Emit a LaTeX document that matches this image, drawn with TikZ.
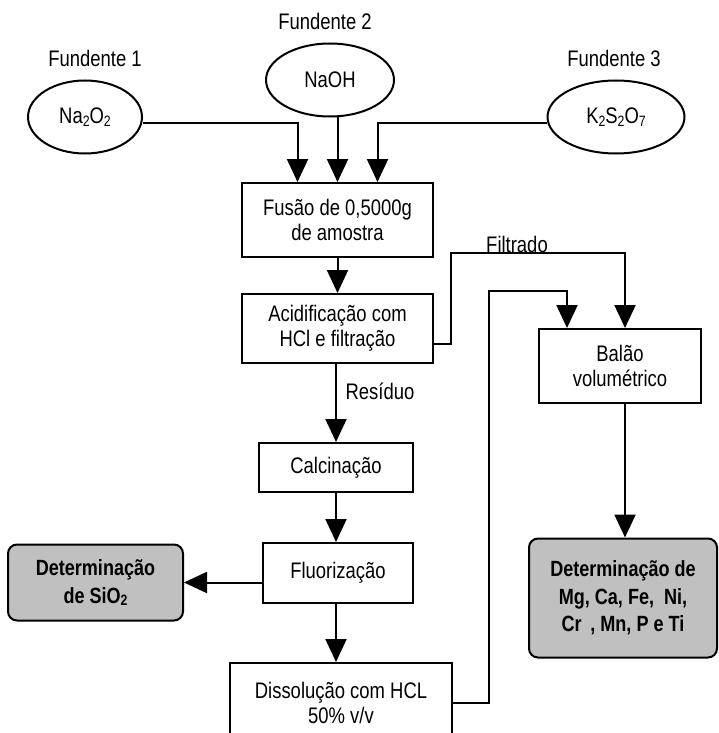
\documentclass[tikz,border=0pt]{standalone}
\usepackage{fontspec}
\setmainfont{Liberation Sans}[FakeStretch=0.82]
\usetikzlibrary{arrows.meta, positioning, shapes.geometric}
\definecolor{boxGray}{HTML}{C0C0C0}
\newcommand{\chemsub}[1]{\raisebox{-0.2ex}{\fontsize{15}{15}\selectfont #1}}

\begin{document}
\begin{tikzpicture}[x=1pt, y=-1pt,
    every node/.style={font=\fontsize{22.5}{25}\selectfont, inner sep=0pt},
    fundente/.style={ellipse, draw, line width=2pt},
    stepbox/.style={rectangle, draw, line width=2pt, align=center},
    result/.style={rectangle, rounded corners=9pt, draw, line width=2pt, fill=boxGray,
                   align=center, font=\fontsize{22}{27.5}\selectfont\bfseries},
    arr/.style={line width=2pt, -{Triangle[length=23pt, width=21pt]}},
  ]
    \path[use as bounding box] (0,0) rectangle (718,733);
    \clip (0,0) rectangle (718,733);

    % fundentes
    \node (lab1) at (95,58) {Fundente 1};
    \node (lab2) at (325,21) {Fundente 2};
    \node (lab3) at (614,58) {Fundente 3};
    \node[fundente, minimum width=114pt, minimum height=73pt] (na2o2) at (85,117)
      {Na\chemsub{2}O\chemsub{2}};
    \node[fundente, minimum width=128pt, minimum height=73pt] (naoh) at (330,80) {NaOH};
    \node[fundente, minimum width=137pt, minimum height=73pt] (k2s2o7) at (616,117)
      {K\chemsub{2}S\chemsub{2}O\chemsub{7}};

    % main line
    \node[stepbox, minimum width=191pt, minimum height=74pt] (fusao) at (337.5,220)
      {Fusão de 0,5000g\\de amostra};
    \node[stepbox, minimum width=191pt, minimum height=69pt] (acid) at (337.5,328.5)
      {Acidificação com\\HCl e filtração};
    \node[stepbox, minimum width=154pt, minimum height=49pt] (calc) at (336,467.5)
      {Calcinação};
    \node[stepbox, minimum width=150pt, minimum height=60pt] (fluor) at (338,573)
      {Fluorização};
    \node[stepbox, minimum width=222pt, minimum height=80pt] (dissol) at (341,703)
      {Dissolução com HCL\\50\% v/v};
    \node[stepbox, minimum width=162pt, minimum height=74pt] (balao) at (620,366)
      {Balão\\volumétrico};

    % results
    \node[result, minimum width=175pt, minimum height=76pt] (detsio) at (95.5,582.5)
      {Determinação\\de SiO\chemsub{2}};
    \node[result, minimum width=188pt, minimum height=119pt] (detmet) at (623,598)
      {Determinação de\\Mg, Ca, Fe, \ Ni,\\Cr \,, Mn, P e Ti};

    % labels
    \node (filtrado) at (517,244) {Filtrado};
    \node (residuo) at (380,391) {Resíduo};

    \coordinate (filt) at (451,253);
    \coordinate (ret) at (489,291);

    % connectors
    \draw[arr] ([yshift=-6pt]na2o2.east) -| ([xshift=-40pt]fusao.north);
    \draw[arr] (naoh.south -| fusao.north) -- (fusao.north);
    \draw[arr] ([yshift=-6pt]k2s2o7.west) -| ([xshift=40pt]fusao.north);
    \draw[arr] (fusao) -- (acid);
    \draw[arr] (acid.south -| calc.north) -- (calc.north);
    \draw[arr] (calc) -- (fluor.north -| calc.south);
    \draw[arr] (fluor.west |- detsio.east) -- (detsio.east);
    \draw[arr] (fluor.south -| calc.south) -- (dissol.north -| calc.south);
    \draw[arr] ([yshift=-15.5pt]acid.east) -| (filt) -| ([xshift=5pt]balao.north);
    \draw[arr] (dissol.east) -| (ret) -| ([xshift=-53pt]balao.north);
    \draw[arr] ([xshift=5pt]balao.south) -- ([xshift=5pt]balao.south |- detmet.north);
\end{tikzpicture}
\end{document}
